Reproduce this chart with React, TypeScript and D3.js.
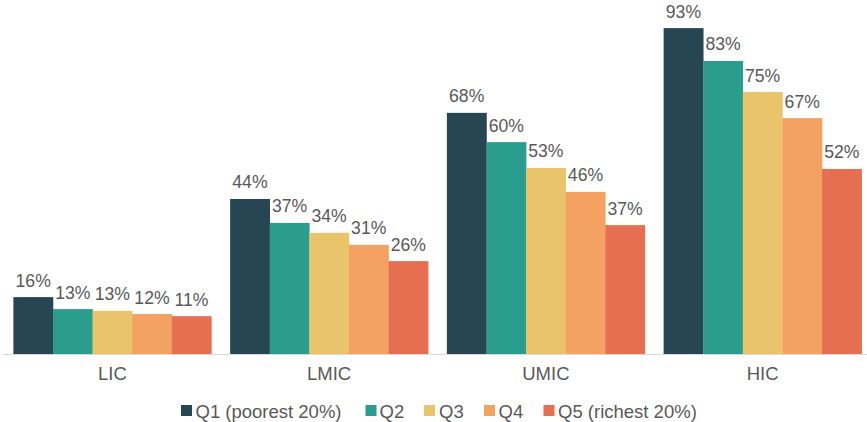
import React from "react";
import * as d3 from "d3";

const categories = ["LIC", "LMIC", "UMIC", "HIC"];
const seriesNames = ["Q1 (poorest 20%)", "Q2", "Q3", "Q4", "Q5 (richest 20%)"];
const seriesColors = ["#264653", "#2a9d8f", "#e9c46a", "#f4a261", "#e76f51"];
const q1 = [16.4, 44.2, 68.6, 92.6];
const q2 = [13.0, 37.4, 60.3, 83.3];
const q3 = [12.5, 34.6, 53.0, 74.5];
const q4 = [11.6, 31.2, 46.2, 67.1];
const q5 = [11.0, 26.6, 36.8, 52.7];
const labelQ1 = ["16%", "44%", "68%", "93%"];
const labelQ2 = ["13%", "37%", "60%", "83%"];
const labelQ3 = ["13%", "34%", "53%", "75%"];
const labelQ4 = ["12%", "31%", "46%", "67%"];
const labelQ5 = ["11%", "26%", "37%", "52%"];

const seriesValues = [q1, q2, q3, q4, q5];
const seriesLabels = [labelQ1, labelQ2, labelQ3, labelQ4, labelQ5];

const W = 867;
const H = 422;
const FONT = "'Liberation Sans', Arial, sans-serif";
const TEXT = "#595959";

export default function App() {
  const x0 = d3.scaleBand<string>().domain(categories).range([4, 871]).padding(0);
  const inner = (x0.bandwidth() - 198) / 2;
  const x1 = d3
    .scaleBand<number>()
    .domain(d3.range(seriesNames.length))
    .range([inner, x0.bandwidth() - inner])
    .padding(0);
  const y = d3.scaleLinear().domain([0, 100]).range([355, 2]);

  // legend layout
  const legendItems = [
    { sq: 181, tx: 195.5 },
    { sq: 365.5, tx: 379.5 },
    { sq: 424, tx: 439 },
    { sq: 484, tx: 498.5 },
    { sq: 543.5, tx: 558 },
  ];

  return (
    <div style={{ position: "absolute", left: 0, top: 0 }}>
      <svg width={W} height={H} style={{ display: "block", background: "#fff" }}>
        {categories.map((c, ci) => (
          <g key={c} transform={`translate(${x0(c)},0)`}>
            {seriesValues.map((vals, si) => {
              const v = vals[ci];
              const bx = x1(si)!;
              const bw = x1.bandwidth();
              return (
                <g key={si}>
                  <rect
                    x={bx}
                    y={y(v)}
                    width={bw + 0.3}
                    height={y(0) - y(v)}
                    fill={seriesColors[si]}
                  />
                  <text
                    x={bx + bw / 2}
                    y={y(v) - 10.5}
                    textAnchor="middle"
                    fontFamily={FONT}
                    fontSize={17.6}
                    fill={TEXT}
                  >
                    {seriesLabels[si][ci]}
                  </text>
                </g>
              );
            })}
            <text
              x={x0.bandwidth() / 2}
              y={380}
              textAnchor="middle"
              fontFamily={FONT}
              fontSize={18.5}
              fill={TEXT}
            >
              {c}
            </text>
          </g>
        ))}
        <line x1={3} x2={867} y1={354.5} y2={354.5} stroke="#d9d9d9" strokeWidth={1} />
        {seriesNames.map((n, i) => (
          <g key={n}>
            <rect x={legendItems[i].sq} y={405} width={11} height={11} fill={seriesColors[i]} />
            <text x={legendItems[i].tx} y={417.5} fontFamily={FONT} fontSize={18.5} fill={TEXT}>
              {n}
            </text>
          </g>
        ))}
      </svg>
    </div>
  );
}
